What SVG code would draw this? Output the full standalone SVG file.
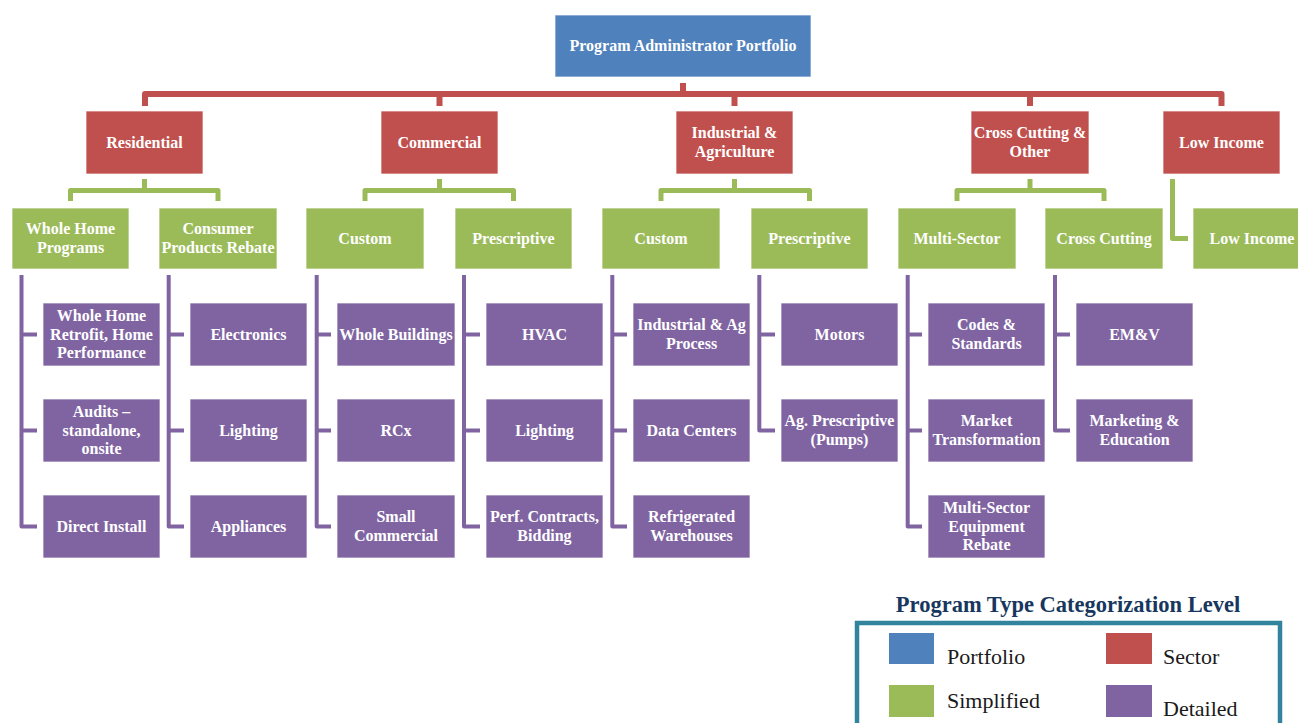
<svg xmlns="http://www.w3.org/2000/svg" width="1298" height="723" viewBox="0 0 1298 723">
<style>
.n rect{stroke:#ffffff;stroke-opacity:0.7;stroke-width:1}
.pf{fill:#4F81BD}.sc{fill:#C0504D}.sm{fill:#9BBB59}.dt{fill:#8064A2}
.n text{font-family:"Liberation Serif","Times New Roman",serif;font-weight:bold;font-size:16px;fill:#ffffff;text-anchor:middle}
.cr{fill:none;stroke:#C0504D;stroke-width:6;stroke-linejoin:round}
.cg{fill:none;stroke:#9BBB59;stroke-width:5;stroke-linejoin:round}
.cp{fill:none;stroke:#8064A2;stroke-width:4;stroke-linejoin:round}
.lg text{font-family:"Liberation Serif","Times New Roman",serif;font-size:22px;fill:#1a1a1a}
.lg .tt{font-weight:bold;font-size:22.5px;fill:#17375E;text-anchor:middle}
</style>
<g id="connectors">
<path class="cr" d="M145,106 V94 H1221.5 V106 M683,83 V94 M439.5,94 V106 M734.5,94 V106 M1030,94 V106"/>
<path class="cg" d="M70.5,201 V190.5 H218 V201 M144.5,179 V190.5"/>
<path class="cg" d="M365,201 V190.5 H513.5 V201 M439.5,179 V190.5"/>
<path class="cg" d="M661,201 V190.5 H809.5 V201 M734.5,179 V190.5"/>
<path class="cg" d="M957,201 V190.5 H1104 V201 M1030,179 V190.5"/>
<path class="cg" d="M1172.5,179 V238.5 H1188"/>
<path class="cp" d="M21.5,275 V526.5 H37 M21.5,334.5 H37 M21.5,430.5 H37"/>
<path class="cp" d="M168.7,275 V526.5 H184 M168.7,334.5 H184 M168.7,430.5 H184"/>
<path class="cp" d="M316.7,275 V526.5 H331 M316.7,334.5 H331 M316.7,430.5 H331"/>
<path class="cp" d="M464,275 V526.5 H480 M464,334.5 H480 M464,430.5 H480"/>
<path class="cp" d="M612.3,275 V526.5 H627 M612.3,334.5 H627 M612.3,430.5 H627"/>
<path class="cp" d="M759.3,275 V430.5 H775 M759.3,334.5 H775"/>
<path class="cp" d="M907.7,275 V526.5 H922 M907.7,334.5 H922 M907.7,430.5 H922"/>
<path class="cp" d="M1055,275 V430.5 H1070 M1055,334.5 H1070"/>
</g>
<g id="portfolio" class="n"><rect class="pf" x="555" y="15" width="256" height="62"/><text x="683" y="51">Program Administrator Portfolio</text></g>
<g id="sec-residential" class="n"><rect class="sc" x="86" y="111" width="117" height="63"/><text x="144.5" y="147.5">Residential</text></g>
<g id="sec-commercial" class="n"><rect class="sc" x="381" y="111" width="117" height="63"/><text x="439.5" y="147.5">Commercial</text></g>
<g id="sec-industrial" class="n"><rect class="sc" x="676" y="111" width="117" height="63"/><text x="734.5" y="138.2">Industrial &amp;<tspan x="734.5" y="156.8">Agriculture</tspan></text></g>
<g id="sec-crosscutting" class="n"><rect class="sc" x="971" y="111" width="118" height="63"/><text x="1030" y="138.2">Cross Cutting &amp;<tspan x="1030" y="156.8">Other</tspan></text></g>
<g id="sec-lowincome" class="n"><rect class="sc" x="1163" y="111" width="117" height="63"/><text x="1221.5" y="147.5">Low Income</text></g>
<g id="s-wholehome" class="n"><rect class="sm" x="12" y="208" width="117" height="61"/><text x="70.5" y="234.2">Whole Home<tspan x="70.5" y="252.8">Programs</tspan></text></g>
<g id="s-consumer" class="n"><rect class="sm" x="159" y="208" width="118" height="61"/><text x="218" y="234.2">Consumer<tspan x="218" y="252.8">Products Rebate</tspan></text></g>
<g id="s-com-custom" class="n"><rect class="sm" x="306" y="208" width="118" height="61"/><text x="365" y="243.5">Custom</text></g>
<g id="s-com-prescriptive" class="n"><rect class="sm" x="455" y="208" width="117" height="61"/><text x="513.5" y="243.5">Prescriptive</text></g>
<g id="s-ind-custom" class="n"><rect class="sm" x="602" y="208" width="118" height="61"/><text x="661" y="243.5">Custom</text></g>
<g id="s-ind-prescriptive" class="n"><rect class="sm" x="751" y="208" width="117" height="61"/><text x="809.5" y="243.5">Prescriptive</text></g>
<g id="s-multisector" class="n"><rect class="sm" x="898" y="208" width="118" height="61"/><text x="957" y="243.5">Multi-Sector</text></g>
<g id="s-crosscutting" class="n"><rect class="sm" x="1045" y="208" width="118" height="61"/><text x="1104" y="243.5">Cross Cutting</text></g>
<g id="s-lowincome" class="n"><rect class="sm" x="1193" y="208" width="118" height="61"/><text x="1252" y="243.5">Low Income</text></g>
<g id="d-wholehome-retrofit" class="n"><rect class="dt" x="43" y="303" width="117" height="63"/><text x="101.5" y="320.9">Whole Home<tspan x="101.5" y="339.5">Retrofit, Home</tspan><tspan x="101.5" y="358.1">Performance</tspan></text></g>
<g id="d-audits" class="n"><rect class="dt" x="43" y="399" width="117" height="63"/><text x="101.5" y="416.9">Audits –<tspan x="101.5" y="435.5">standalone,</tspan><tspan x="101.5" y="454.1">onsite</tspan></text></g>
<g id="d-directinstall" class="n"><rect class="dt" x="43" y="495" width="117" height="63"/><text x="101.5" y="531.5">Direct Install</text></g>
<g id="d-electronics" class="n"><rect class="dt" x="190" y="303" width="117" height="63"/><text x="248.5" y="339.5">Electronics</text></g>
<g id="d-res-lighting" class="n"><rect class="dt" x="190" y="399" width="117" height="63"/><text x="248.5" y="435.5">Lighting</text></g>
<g id="d-appliances" class="n"><rect class="dt" x="190" y="495" width="117" height="63"/><text x="248.5" y="531.5">Appliances</text></g>
<g id="d-wholebuildings" class="n"><rect class="dt" x="337" y="303" width="118" height="63"/><text x="396" y="339.5">Whole Buildings</text></g>
<g id="d-rcx" class="n"><rect class="dt" x="337" y="399" width="118" height="63"/><text x="396" y="435.5">RCx</text></g>
<g id="d-smallcommercial" class="n"><rect class="dt" x="337" y="495" width="118" height="63"/><text x="396" y="522.2">Small<tspan x="396" y="540.8">Commercial</tspan></text></g>
<g id="d-hvac" class="n"><rect class="dt" x="486" y="303" width="117" height="63"/><text x="544.5" y="339.5">HVAC</text></g>
<g id="d-com-lighting" class="n"><rect class="dt" x="486" y="399" width="117" height="63"/><text x="544.5" y="435.5">Lighting</text></g>
<g id="d-perfcontracts" class="n"><rect class="dt" x="486" y="495" width="117" height="63"/><text x="544.5" y="522.2">Perf. Contracts,<tspan x="544.5" y="540.8">Bidding</tspan></text></g>
<g id="d-indagprocess" class="n"><rect class="dt" x="633" y="303" width="117" height="63"/><text x="691.5" y="330.2">Industrial &amp; Ag<tspan x="691.5" y="348.8">Process</tspan></text></g>
<g id="d-datacenters" class="n"><rect class="dt" x="633" y="399" width="117" height="63"/><text x="691.5" y="435.5">Data Centers</text></g>
<g id="d-refrigerated" class="n"><rect class="dt" x="633" y="495" width="117" height="63"/><text x="691.5" y="522.2">Refrigerated<tspan x="691.5" y="540.8">Warehouses</tspan></text></g>
<g id="d-motors" class="n"><rect class="dt" x="781" y="303" width="117" height="63"/><text x="839.5" y="339.5">Motors</text></g>
<g id="d-agprescriptive" class="n"><rect class="dt" x="781" y="399" width="117" height="63"/><text x="839.5" y="426.2">Ag. Prescriptive<tspan x="839.5" y="444.8">(Pumps)</tspan></text></g>
<g id="d-codes" class="n"><rect class="dt" x="928" y="303" width="117" height="63"/><text x="986.5" y="330.2">Codes &amp;<tspan x="986.5" y="348.8">Standards</tspan></text></g>
<g id="d-markettransformation" class="n"><rect class="dt" x="928" y="399" width="117" height="63"/><text x="986.5" y="426.2">Market<tspan x="986.5" y="444.8">Transformation</tspan></text></g>
<g id="d-msequipment" class="n"><rect class="dt" x="928" y="495" width="117" height="63"/><text x="986.5" y="512.9">Multi-Sector<tspan x="986.5" y="531.5">Equipment</tspan><tspan x="986.5" y="550.1">Rebate</tspan></text></g>
<g id="d-emv" class="n"><rect class="dt" x="1076" y="303" width="117" height="63"/><text x="1134.5" y="339.5">EM&amp;V</text></g>
<g id="d-marketing" class="n"><rect class="dt" x="1076" y="399" width="117" height="63"/><text x="1134.5" y="426.2">Marketing &amp;<tspan x="1134.5" y="444.8">Education</tspan></text></g>
<g id="legend" class="lg">
<text class="tt" x="1068" y="612">Program Type Categorization Level</text>
<rect x="857" y="623" width="423" height="112" fill="#ffffff" stroke="#31849B" stroke-width="4.5"/>
<rect class="pf" x="889" y="633" width="45" height="31"/>
<text x="947" y="664">Portfolio</text>
<rect class="sc" x="1106" y="633" width="46" height="31"/>
<text x="1163" y="664">Sector</text>
<rect class="sm" x="889" y="685" width="45" height="32"/>
<text x="947" y="708">Simplified</text>
<rect class="dt" x="1106" y="685" width="46" height="32"/>
<text x="1163" y="716">Detailed</text>
</g>
</svg>
